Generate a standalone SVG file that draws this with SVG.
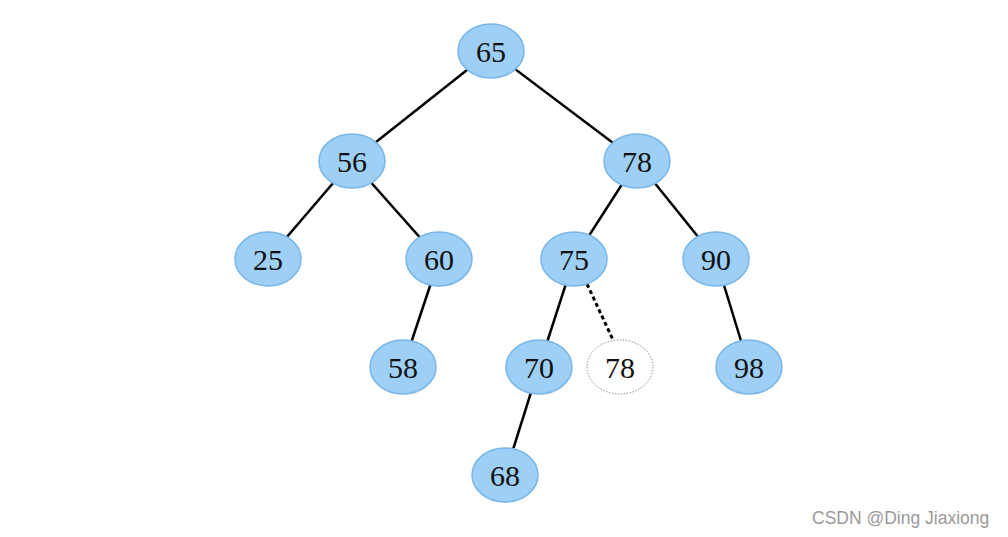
<svg xmlns="http://www.w3.org/2000/svg" width="1008" height="537" viewBox="0 0 1008 537">
<style>
.e{stroke:#000;stroke-width:2.5;fill:none}
.d{stroke:#000;stroke-width:3;stroke-dasharray:4,3;fill:none}
.n ellipse{fill:#9ecff7;stroke:#78b6e8;stroke-width:1.5}
.g ellipse{fill:#fff;stroke:#888;stroke-width:1;stroke-dasharray:1.5,1.5}
text{font-family:"Liberation Serif","DejaVu Serif",serif;font-size:30px;fill:#111;text-anchor:middle;dominant-baseline:central}
.w{font-family:"Liberation Sans",Arial,sans-serif;font-size:17.5px;fill:#999;text-anchor:start}
</style>
<rect width="1008" height="537" fill="#fff"/>
<g id="edges">
<line class="e" x1="491" y1="51" x2="352" y2="161"/>
<line class="e" x1="491" y1="51" x2="637" y2="161"/>
<line class="e" x1="352" y1="161" x2="268" y2="259"/>
<line class="e" x1="352" y1="161" x2="439" y2="259"/>
<line class="e" x1="637" y1="161" x2="574" y2="259"/>
<line class="e" x1="637" y1="161" x2="716" y2="259"/>
<line class="e" x1="439" y1="259" x2="403" y2="367"/>
<line class="e" x1="574" y1="259" x2="539" y2="367"/>
<line class="d" x1="587" y1="284" x2="614" y2="342"/>
<line class="e" x1="716" y1="259" x2="749" y2="367"/>
<line class="e" x1="539" y1="367" x2="505" y2="475"/>
</g>
<g id="n65" class="n"><ellipse cx="491" cy="51" rx="33" ry="27"/><text x="491" y="51">65</text></g>
<g id="n56" class="n"><ellipse cx="352" cy="161" rx="33" ry="27"/><text x="352" y="161">56</text></g>
<g id="n78" class="n"><ellipse cx="637" cy="161" rx="33" ry="27"/><text x="637" y="161">78</text></g>
<g id="n25" class="n"><ellipse cx="268" cy="259" rx="33" ry="27"/><text x="268" y="259">25</text></g>
<g id="n60" class="n"><ellipse cx="439" cy="259" rx="33" ry="27"/><text x="439" y="259">60</text></g>
<g id="n75" class="n"><ellipse cx="574" cy="259" rx="33" ry="27"/><text x="574" y="259">75</text></g>
<g id="n90" class="n"><ellipse cx="716" cy="259" rx="33" ry="27"/><text x="716" y="259">90</text></g>
<g id="n58" class="n"><ellipse cx="403" cy="367" rx="33" ry="27"/><text x="403" y="367">58</text></g>
<g id="n70" class="n"><ellipse cx="539" cy="367" rx="33" ry="27"/><text x="539" y="367">70</text></g>
<g id="n78b" class="g"><ellipse cx="620" cy="367" rx="33" ry="27"/><text x="620" y="367">78</text></g>
<g id="n98" class="n"><ellipse cx="749" cy="367" rx="33" ry="27"/><text x="749" y="367">98</text></g>
<g id="n68" class="n"><ellipse cx="505" cy="475" rx="33" ry="27"/><text x="505" y="475">68</text></g>
<text class="w" x="812" y="518">CSDN @Ding Jiaxiong</text>
</svg>
